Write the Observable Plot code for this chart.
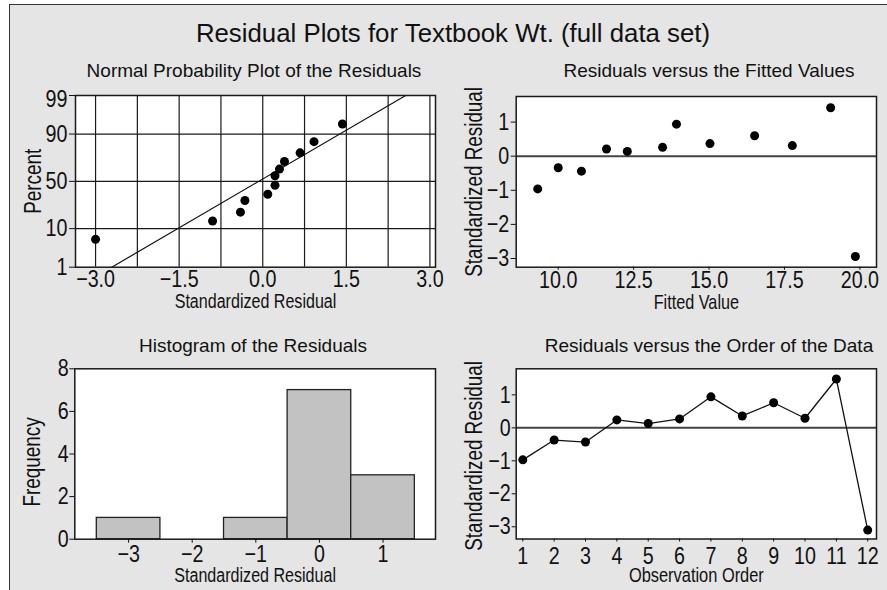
<!DOCTYPE html>
<html>
<head>
<meta charset="utf-8">
<script src="https://cdn.jsdelivr.net/npm/d3@7"></script>
<script src="https://cdn.jsdelivr.net/npm/@observablehq/plot@0.6"></script>
<style>
  html, body { margin: 0; padding: 0; background: #ffffff; width: 887px; height: 590px; overflow: hidden; }
  #root { position: relative; width: 887px; height: 590px; }
  #bg { position: absolute; left: 9px; top: 4px; width: 878px; height: 586px; box-sizing: border-box;
        background: #e5e5e5; border-top: 1.5px solid #333; border-left: 1.5px solid #333; }
  .ttl { position: absolute; text-align: center; white-space: nowrap; line-height: 1;
         font-family: "Liberation Sans", Arial, sans-serif; color: #111; }
</style>
</head>
<body>
<div id="root">
  <div id="bg"></div>
  <div class="ttl" style="left:153px;top:20.9px;width:600px;font-size:25.8px;">Residual Plots for Textbook Wt. (full data set)</div>
  <div class="ttl" style="left:54px;top:61.2px;width:400px;font-size:19px;">Normal Probability Plot of the Residuals</div>
  <div class="ttl" style="left:531px;top:61.2px;width:356px;font-size:19px;">Residuals versus the Fitted Values</div>
  <div class="ttl" style="left:53px;top:335.6px;width:400px;font-size:19px;">Histogram of the Residuals</div>
  <div class="ttl" style="left:531px;top:335.6px;width:356px;font-size:19px;">Residuals versus the Order of the Data</div>
</div>
<script>
// ---------- data ----------
// Normal probability plot (sorted standardized residuals vs percent)
const nppResid   = [-3.00, -0.90, -0.40, -0.32, 0.09, 0.22, 0.22, 0.30, 0.39, 0.67, 0.92, 1.43];
const nppPercent = [5.8, 14.1, 20.2, 30.2, 36.3, 45.7, 56.0, 63.0, 70.5, 78.0, 85.9, 94.0];
const nppLineX   = [-2.71, 2.565];
const nppLineP   = [1, 99];
const nppTickX   = [-3.0, -1.5, 0.0, 1.5, 3.0];
const nppGridX   = [-3, -2.25, -1.5, -0.75, 0, 0.75, 1.5, 2.25, 3];
const nppTickPct = [1, 10, 50, 90, 99];
const nppGridPct = [10, 50, 90];

// Residuals versus fitted values
const fitted      = [9.32, 10.0, 10.77, 11.60, 12.29, 13.46, 13.92, 15.03, 16.51, 17.76, 19.03, 19.85];
const residFitted = [-0.96, -0.34, -0.44, 0.21, 0.14, 0.26, 0.94, 0.37, 0.60, 0.31, 1.42, -2.94];
const fitTickX    = [10.0, 12.5, 15.0, 17.5, 20.0];
const residTicks  = [-3, -2, -1, 0, 1];

// Histogram of residuals
const binEdges  = [-3.5, -2.5, -1.5, -0.5, 0.5, 1.5];
const binCounts = [1, 0, 1, 7, 3];
const histTickX = [-3, -2, -1, 0, 1];
const histTickY = [0, 2, 4, 6, 8];

// Residuals versus order
const order      = [1, 2, 3, 4, 5, 6, 7, 8, 9, 10, 11, 12];
const residOrder = [-0.97, -0.37, -0.43, 0.24, 0.13, 0.27, 0.94, 0.36, 0.76, 0.29, 1.48, -3.10];

// ---------- helpers ----------
function probit(p) {
  const a = [-3.969683028665376e+01, 2.209460984245205e+02, -2.759285104469687e+02, 1.383577518672690e+02, -3.066479806614716e+01, 2.506628277459239e+00];
  const b = [-5.447609879822406e+01, 1.615858368580409e+02, -1.556989798598866e+02, 6.680131188771972e+01, -1.328068155288572e+01];
  const c = [-7.784894002430293e-03, -3.223964580411365e-01, -2.400758277161838e+00, -2.549671743584467e+00, 4.374664141464968e+00, 2.938163982698783e+00];
  const d = [7.784695709041462e-03, 3.224671290700398e-01, 2.445134137142996e+00, 3.754408661907416e+00];
  const pl = 0.02425, ph = 1 - pl;
  let q, r;
  if (p < pl) {
    q = Math.sqrt(-2 * Math.log(p));
    return (((((c[0]*q+c[1])*q+c[2])*q+c[3])*q+c[4])*q+c[5]) / ((((d[0]*q+d[1])*q+d[2])*q+d[3])*q+1);
  }
  if (p <= ph) {
    q = p - 0.5; r = q * q;
    return (((((a[0]*r+a[1])*r+a[2])*r+a[3])*r+a[4])*r+a[5])*q / (((((b[0]*r+b[1])*r+b[2])*r+b[3])*r+b[4])*r+1);
  }
  q = Math.sqrt(-2 * Math.log(1 - p));
  return -(((((c[0]*q+c[1])*q+c[2])*q+c[3])*q+c[4])*q+c[5]) / ((((d[0]*q+d[1])*q+d[2])*q+d[3])*q+1);
}
const zOf = (pct) => probit(pct / 100);

const FONT = "'Liberation Sans', Arial, sans-serif";
const INK = "#111";
const LINE = "#1a1a1a";
const baseStyle = { background: "transparent", overflow: "visible", fontFamily: FONT, fontSize: "24px", color: INK };
const fmt1 = d3.format(".1f");
const fmtI = d3.format("d");

function place(el, left, top) {
  const d = document.createElement("div");
  d.style.cssText = `position:absolute;left:${left}px;top:${top}px;`;
  d.append(el);
  document.getElementById("root").append(d);
  // narrow (condensed) lettering, like the reference's condensed face
  el.querySelectorAll("text").forEach(t => {
    const w = t.getComputedTextLength();
    if (w > 0) {
      t.setAttribute("textLength", (w * 0.82).toFixed(2));
      t.setAttribute("lengthAdjust", "spacingAndGlyphs");
    }
  });
}

function yLabel(text, dx, dy, size) {
  return Plot.text([text], { frameAnchor: "left", rotate: -90, textAnchor: "middle", lineAnchor: "bottom", dx, dy: dy || 0,
    fontSize: size, fill: INK });
}
function xLabel(text, dy, size) {
  return Plot.text([text], { frameAnchor: "bottom", textAnchor: "middle", lineAnchor: "bottom", dy, fontSize: size, fill: INK });
}

// ---------- Panel 1: normal probability plot ----------
const npp = nppResid.map((r, i) => ({ r, p: nppPercent[i] }));
const nppLine = nppLineX.map((x, i) => ({ x, p: nppLineP[i] }));
const topPct = nppTickPct[nppTickPct.length - 1];
const pctLabel = new Map(nppTickPct.map(t => [zOf(t), t === topPct ? "" : String(t)]));

const p1 = Plot.plot({
  width: 445, height: 230, marginLeft: 75, marginRight: 10, marginTop: 10, marginBottom: 48.3,
  x: { domain: [-3.36, 3.10] },
  y: { domain: [zOf(1), zOf(99)] },
  style: baseStyle,
  marks: [
    Plot.frame({ fill: "white" }),
    Plot.ruleX(nppGridX, { stroke: LINE, strokeWidth: 1.2 }),
    Plot.ruleY(nppGridPct, { y: d => zOf(d), stroke: LINE, strokeWidth: 1.2 }),
    Plot.line(nppLine, { x: "x", y: d => zOf(d.p), stroke: INK, strokeWidth: 1.2 }),
    Plot.dot(npp, { x: "r", y: d => zOf(d.p), r: 4.5, fill: "#000" }),
    Plot.frame({ stroke: LINE, strokeWidth: 1.5 }),
    Plot.axisY({ ticks: nppTickPct.map(zOf), tickFormat: z => pctLabel.get(z), tickSize: 6, tickPadding: 2, label: null }),
    Plot.axisY({ ticks: [zOf(topPct)], tickFormat: () => String(topPct), tickSize: 0, tickPadding: 8, dy: 4, label: null }),
    Plot.axisX({ ticks: nppTickX, tickFormat: fmt1, tickSize: 0, tickPadding: 2.6, label: null }),
    yLabel("Percent", -35, 0, 23),
    xLabel("Standardized Residual", 40.6, 19.6)
  ]
});
place(p1, 0, 85);

// ---------- Panel 2: residuals vs fitted ----------
const fv = fitted.map((f, i) => ({ f, r: residFitted[i] }));
const p2 = Plot.plot({
  width: 447, height: 230, marginLeft: 75.7, marginRight: 11, marginTop: 11, marginBottom: 48.3,
  x: { domain: [8.607, 20.55] },
  y: { domain: [-3.255, 1.75] },
  style: baseStyle,
  marks: [
    Plot.frame({ fill: "white" }),
    Plot.ruleY([0], { stroke: "#444", strokeWidth: 2 }),
    Plot.dot(fv, { x: "f", y: "r", r: 4.5, fill: "#000" }),
    Plot.frame({ stroke: LINE, strokeWidth: 1.5 }),
    Plot.axisY({ ticks: residTicks, tickFormat: fmtI, tickSize: 5, tickPadding: 2, label: null }),
    Plot.axisX({ ticks: fitTickX, tickFormat: fmt1, tickSize: 3, tickPadding: 1, label: null }),
    yLabel("Standardized Residual", -34, 0, 23),
    xLabel("Fitted Value", 41.3, 19.8)
  ]
});
place(p2, 440, 85);

// ---------- Panel 3: histogram ----------
const bins = binCounts.map((n, i) => ({ x1: binEdges[i], x2: binEdges[i + 1], n })).filter(d => d.n > 0);
const p3 = Plot.plot({
  width: 445, height: 235, marginLeft: 74.3, marginRight: 10, marginTop: 13.3, marginBottom: 51.3,
  x: { domain: [-3.846, 1.825] },
  y: { domain: [0, 8] },
  style: baseStyle,
  marks: [
    Plot.frame({ fill: "white" }),
    Plot.rectY(bins, { x1: "x1", x2: "x2", y: "n", fill: "#c2c2c2", stroke: "#222", strokeWidth: 1.3 }),
    Plot.frame({ stroke: LINE, strokeWidth: 1.5 }),
    Plot.axisY({ ticks: histTickY, tickFormat: fmtI, tickSize: 5, tickPadding: 1, label: null }),
    Plot.axisX({ ticks: histTickX, tickFormat: fmtI, tickSize: 4, tickPadding: 2, label: null }),
    yLabel("Frequency", -34.5, 8, 23),
    xLabel("Standardized Residual", 43, 19.6)
  ]
});
place(p3, 0, 355);

// ---------- Panel 4: residuals vs order ----------
const ord = order.map((o, i) => ({ o, r: residOrder[i] }));
const p4 = Plot.plot({
  width: 447, height: 235, marginLeft: 75.7, marginRight: 11, marginTop: 13.3, marginBottom: 51.5,
  x: { domain: [0.79, 12.28] },
  y: { domain: [-3.37, 1.79] },
  style: baseStyle,
  marks: [
    Plot.frame({ fill: "white" }),
    Plot.ruleY([0], { stroke: "#444", strokeWidth: 2 }),
    Plot.line(ord, { x: "o", y: "r", stroke: INK, strokeWidth: 1.3 }),
    Plot.dot(ord, { x: "o", y: "r", r: 4.5, fill: "#000" }),
    Plot.frame({ stroke: LINE, strokeWidth: 1.5 }),
    Plot.axisY({ ticks: residTicks, tickFormat: fmtI, tickSize: 4, tickPadding: 1.5, label: null }),
    Plot.axisX({ ticks: order, tickFormat: fmtI, tickSize: 3, tickPadding: 4.5, label: null }),
    yLabel("Standardized Residual", -34, 2, 23),
    xLabel("Observation Order", 43, 20)
  ]
});
place(p4, 440, 355);
</script>
</body>
</html>
